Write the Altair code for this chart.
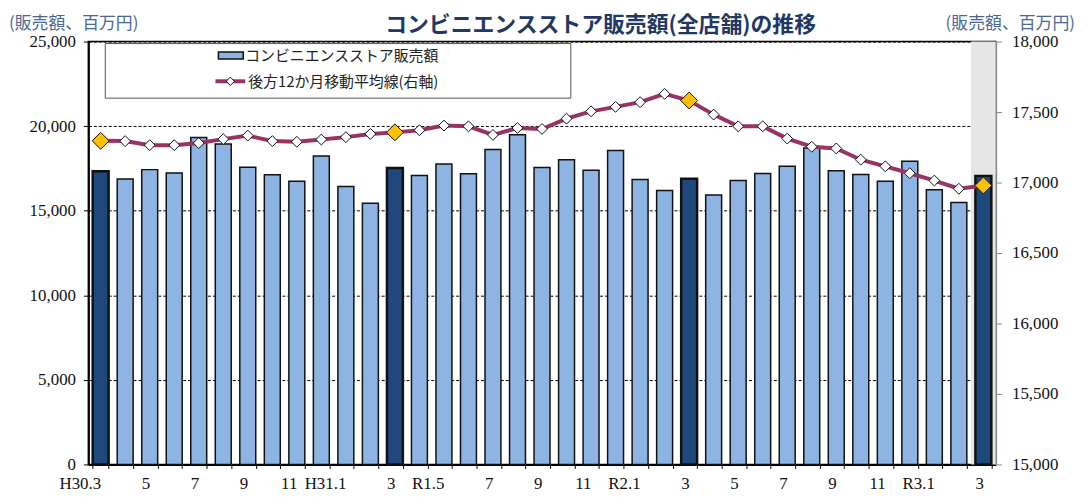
import altair as alt
import pandas as pd

# ---- data ----
months = (["H30.%d" % m for m in range(3, 13)] + ["H31.%d" % m for m in range(1, 5)]
          + ["R1.%d" % m for m in range(5, 13)] + ["R2.%d" % m for m in range(1, 13)]
          + ["R3.%d" % m for m in range(1, 4)])

sales = [17330, 16880, 17430, 17235, 19325, 18940, 17565, 17120, 16745, 18235,
         16430, 15435, 17530, 17085, 17765, 17180, 18620, 19485, 17550, 18015,
         17390, 18565, 16845, 16195, 16885, 15930, 16785, 17195, 17625, 18705,
         17370, 17135, 16745, 17920, 16240, 15490, 17060]

moving_avg = [17296, 17294, 17265, 17265, 17280, 17308, 17333, 17294, 17289, 17305,
              17322, 17345, 17356, 17371, 17404, 17399, 17338, 17387, 17380, 17453,
              17505, 17537, 17570, 17629, 17582, 17482, 17399, 17399, 17312, 17254,
              17242, 17162, 17115, 17066, 17014, 16956, 16979]

tick_labels = ["H30.3", "", "5", "", "7", "", "9", "", "11", "", "H31.1", "", "3", "",
               "R1.5", "", "7", "", "9", "", "11", "", "R2.1", "", "3", "", "5", "",
               "7", "", "9", "", "11", "", "R3.1", "", "3"]

highlight_idx = [0, 12, 24, 36]
shade_idx = [36]

title_text = "コンビニエンスストア販売額(全店舗)の推移"
unit_text = "(販売額、百万円)"
legend_bar = "コンビニエンスストア販売額"
legend_line = "後方12か月移動平均線(右軸)"

df = pd.DataFrame({
    "idx": list(range(len(months))),
    "month": months,
    "sales": sales,
    "ma": moving_avg,
    "march": [i in highlight_idx for i in range(len(months))],
})
shade_df = pd.DataFrame({"idx": shade_idx})
one = pd.DataFrame({"a": [0]})

W, H = 914, 426
PI = 0.35
NUM_FONT = "'Liberation Serif', 'DejaVu Serif', serif"
JP_FONT = "Noto Sans CJK JP"

label_expr = "[" + ",".join("'%s'" % t for t in tick_labels) + "][datum.value]"

x_enc = alt.X("idx:O",
              scale=alt.Scale(paddingInner=PI, paddingOuter=PI / 2),
              axis=alt.Axis(title=None, labelExpr=label_expr, labelAngle=0,
                            labelFont=NUM_FONT, labelFontSize=17, labelColor="#111",
                            labelPadding=15, tickBand="extent", tickSize=4,
                            tickColor="#000", domainColor="#000", domainWidth=2,
                            grid=False))

shade = alt.Chart(shade_df).mark_bar(color="#E6E6E6", width={"band": 1 / (1 - PI)}).encode(
    x=alt.X("idx:O"),
    y=alt.value(0), y2=alt.value(H),
)

bars = alt.Chart(df).mark_bar().encode(
    x=x_enc,
    y=alt.Y("sales:Q", scale=alt.Scale(domain=[0, 25000], nice=False),
            axis=alt.Axis(title=None, orient="left", values=list(range(0, 25001, 5000)),
                          format=",.0f", labelFont=NUM_FONT, labelFontSize=17,
                          labelColor="#111", labelPadding=8, tickSize=5,
                          tickColor="#000", domainColor="#000", domainWidth=2,
                          grid=True, gridColor="#000", gridDash=[3, 2], gridWidth=1)),
    fill=alt.condition("datum.march", alt.value("#1F497D"), alt.value("#8DB4E2")),
    stroke=alt.value("#111"),
    strokeWidth=alt.condition("datum.march", alt.value(2.5), alt.value(1.5)),
)

line = alt.Chart(df).mark_line(color="#993366", strokeWidth=4).encode(
    x=alt.X("idx:O"),
    y=alt.Y("ma:Q", scale=alt.Scale(domain=[15000, 18000], nice=False),
            axis=alt.Axis(title=None, orient="right", values=list(range(15000, 18001, 500)),
                          format=",.0f", labelFont=NUM_FONT, labelFontSize=17,
                          labelColor="#111", labelPadding=10, tickSize=6,
                          tickColor="#888", domainColor="#888", domainWidth=2,
                          grid=False)),
)
points = alt.Chart(df).mark_point(shape="diamond", filled=True, stroke="#111",
                                  strokeWidth=1, opacity=1).encode(
    x=alt.X("idx:O"),
    y=alt.Y("ma:Q"),
    fill=alt.condition("datum.march", alt.value("#FFC000"), alt.value("#FFFFFF")),
    size=alt.condition("datum.march", alt.value(290), alt.value(120)),
)
right_layer = alt.layer(line, points)

# ---- legend (drawn box) ----
leg_box = alt.Chart(one).mark_rect(fill="white", stroke="#555", strokeWidth=1).encode(
    x=alt.value(17), x2=alt.value(486), y=alt.value(2), y2=alt.value(57))
leg_sw = alt.Chart(one).mark_rect(fill="#8DB4E2", stroke="#111", strokeWidth=1.5).encode(
    x=alt.value(131), x2=alt.value(156), y=alt.value(10.5), y2=alt.value(17.5))
leg_line = alt.Chart(one).mark_rule(color="#993366", strokeWidth=4).encode(
    x=alt.value(128), x2=alt.value(158), y=alt.value(40))
leg_pt = alt.Chart(one).mark_point(shape="diamond", filled=True, fill="white",
                                   stroke="#111", strokeWidth=1, size=70, opacity=1).encode(
    x=alt.value(143), y=alt.value(40))
leg_t1 = alt.Chart(one).mark_text(align="left", baseline="middle", font=JP_FONT,
                                  fontSize=15, color="#222", text=legend_bar).encode(
    x=alt.value(158), y=alt.value(14.5))
leg_t2 = alt.Chart(one).mark_text(align="left", baseline="middle", font=JP_FONT,
                                  fontSize=15, color="#222", text=legend_line).encode(
    x=alt.value(161), y=alt.value(40.5))

# ---- titles ----
title = alt.Chart(one).mark_text(align="center", baseline="middle", font=JP_FONT,
                                 fontSize=22, fontWeight="bold", color="#1F3864",
                                 text=title_text).encode(
    x=alt.value(516), y=alt.value(-17))
unit_l = alt.Chart(one).mark_text(align="left", baseline="middle", font=JP_FONT,
                                  fontSize=17, color="#4A6890", text=unit_text).encode(
    x=alt.value(-80), y=alt.value(-18))
unit_r = alt.Chart(one).mark_text(align="right", baseline="middle", font=JP_FONT,
                                  fontSize=17, color="#4A6890", text=unit_text).encode(
    x=alt.value(994), y=alt.value(-18))

chart = alt.layer(
    shade, bars, right_layer,
    leg_box, leg_sw, leg_line, leg_pt, leg_t1, leg_t2,
    title, unit_l, unit_r,
).resolve_scale(y="independent").properties(
    width=W, height=H,
    autosize=alt.AutoSizeParams(type="none"),
    padding={"left": 81, "top": 32, "right": 86, "bottom": 35},
).configure_view(stroke="#000", strokeWidth=1.5)

chart.save("out.html", embed_options={"renderer": "svg", "actions": False})
